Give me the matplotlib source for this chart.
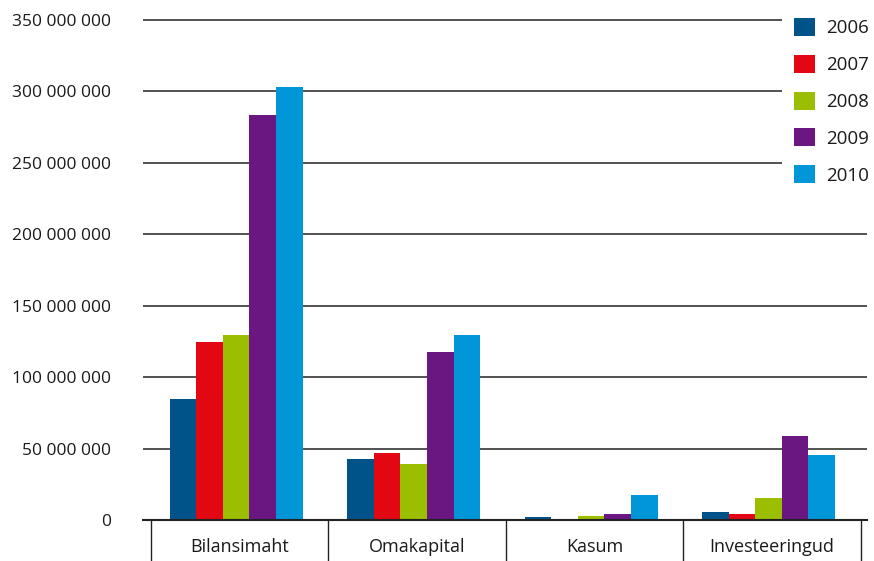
import matplotlib
matplotlib.use("Agg")
import matplotlib.pyplot as plt
from matplotlib.patches import Patch, Rectangle
from matplotlib.ticker import FuncFormatter, FixedLocator
import numpy as np

categories = ["Bilansimaht", "Omakapital", "Kasum", "Investeeringud"]
years = ["2006", "2007", "2008", "2009", "2010"]
v2006 = [84.7e6, 42.7e6, 2.1e6, 5.3e6]
v2007 = [124.6e6, 46.9e6, 1.0e6, 4.4e6]
v2008 = [129.5e6, 39.2e6, 3.0e6, 15.1e6]
v2009 = [283.5e6, 117.6e6, 4.4e6, 59.0e6]
v2010 = [303.0e6, 129.5e6, 17.7e6, 45.2e6]
series = [v2006, v2007, v2008, v2009, v2010]
colors = ["#005389", "#E30613", "#9BBE00", "#6A1782", "#0096D7"]

plt.rcParams['font.family'] = ['Open Sans', 'DejaVu Sans']
FS = 12.5
XFS = 13
LFS = 13.5

W, H = 874, 561
fig = plt.figure(figsize=(W/100, H/100), dpi=100)
y0_px, y350_px = 520, 20
ytop = 355e6
top_px = y0_px - (ytop/350e6)*(y0_px - y350_px)
left_px, right_px = 143, 867
ax = fig.add_axes([left_px/W, 1 - y0_px/H, (right_px-left_px)/W, (y0_px-top_px)/H])

x = np.arange(len(categories))
bw = 0.15
for i, (vals, c) in enumerate(zip(series, colors)):
    ax.bar(x - 2*bw + i*bw - 0.02, vals, width=bw, color=c, zorder=3, linewidth=0)

ax.set_ylim(0, ytop)
ax.set_xlim(-0.545, 3.535)
yt = np.arange(0, 350e6 + 1, 50e6)
ax.set_yticks(yt)
ax.yaxis.set_major_formatter(FuncFormatter(lambda v, p: "0" if v == 0 else f"{int(v):,}".replace(",", " ")))
ax.tick_params(axis='y', length=0, pad=23, labelsize=FS, labelcolor='#1a1a1a')
for v in yt[1:]:
    ax.axhline(v, color='#333333', lw=1.2, zorder=1)

for s in ['left', 'right', 'top']:
    ax.spines[s].set_visible(False)
ax.spines['bottom'].set_color('#222222')
ax.spines['bottom'].set_linewidth(1.5)
ax.spines['bottom'].set_zorder(4)

ax.set_xticks(x)
ax.set_xticklabels(categories)
ax.tick_params(axis='x', which='major', length=0, pad=13, labelsize=XFS, labelcolor='#1a1a1a')
ax.xaxis.set_minor_locator(FixedLocator(np.arange(-0.5, 4.0, 1.0)))
ax.tick_params(axis='x', which='minor', length=31, width=1.0, color='#222222', direction='out')

# white backdrop behind legend (gridlines stop before it)
fig.patches.append(Rectangle((782/W, 1 - 196/H), (W - 782)/W, 196/H,
                             transform=fig.transFigure, facecolor='white',
                             edgecolor='none', zorder=5))

handles = [Patch(facecolor=c, edgecolor='none') for c in colors]
leg = fig.legend(handles, years, loc='upper left', bbox_to_anchor=(794/W, 1 - 18/H),
                 frameon=False, fontsize=LFS, handlelength=1.1, handleheight=1.1,
                 handletextpad=0.6, labelspacing=0.93, borderpad=0, borderaxespad=0,
                 labelcolor='#1a1a1a')
leg.set_zorder(6)

fig.savefig("out.png", dpi=100)
